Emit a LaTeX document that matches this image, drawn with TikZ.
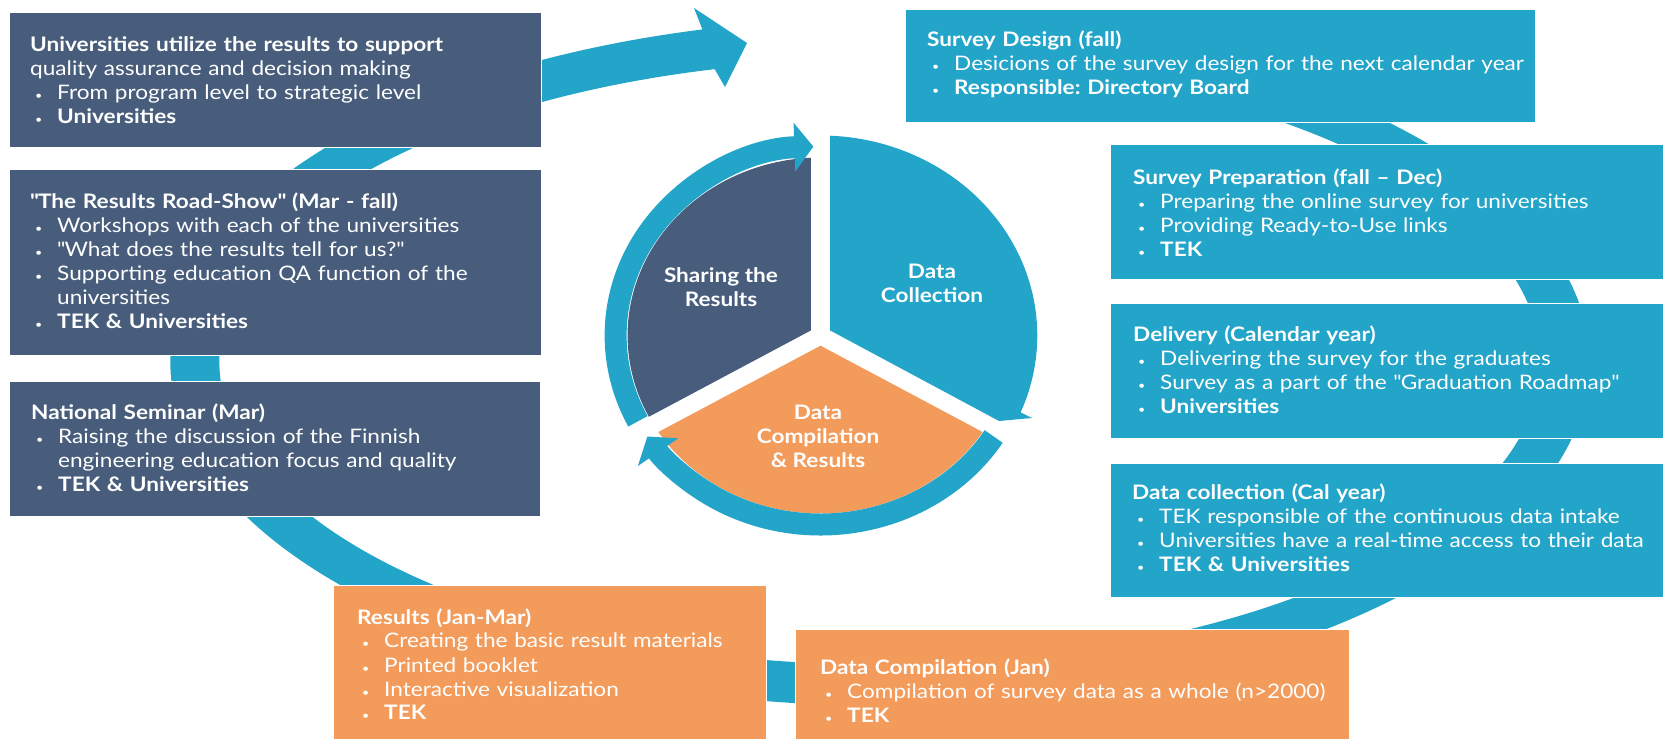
\documentclass[tikz,border=0pt]{standalone}
\usepackage{fontspec}
\setmainfont{Lato}[FakeStretch=1.13]
\usetikzlibrary{arrows.meta,positioning}

\definecolor{slate}{HTML}{485D7C}
\definecolor{skyblue}{HTML}{23A4C9}
\definecolor{peach}{HTML}{F39B5B}

\newcommand{\bul}{\makebox[27pt][l]{\hspace{5pt}{\fontsize{11}{11}\selectfont\textbullet}}}
\newcommand{\cont}{\hspace*{27pt}}
\newcommand{\qq}{\textquotedbl}

\tikzset{
  panel/.style={draw=white, line width=1pt, inner sep=0pt, anchor=north west},
  panetext/.style={anchor=base west, inner sep=0pt, text=white, text width=700pt, align=left, font=\fontsize{20}{24}\selectfont\frenchspacing},
  hubtext/.style={text=white, inner sep=0pt, align=center, font=\bfseries\fontsize{20}{24}\selectfont},
  cyclearrow/.style={skyblue, line width=22pt, -{Triangle[width=48pt,length=19pt]}}
}

\begin{document}
\begin{tikzpicture}[x=1pt, y=1pt]
\useasboundingbox (0,0) rectangle (1667,739);

% Outer cycle arrow (behind the boxes)
\begin{scope}[shift={(880,377)}]
  \fill[skyblue] (70:709.5 and 343.5) arc[start angle=70, end angle=-255.5, x radius=709.5, y radius=343.5]
    -- (-186,354) -- (-133,319) -- (-155,275) -- (-255.5:660.5 and 302.5)
    arc[start angle=-255.5, end angle=70, x radius=660.5, y radius=302.5] -- cycle;
\end{scope}

% Left column
\node[panel, fill=slate, minimum width=532pt, minimum height=135pt] (use) at (9,727) {};
\node[panel, fill=slate, minimum width=532pt, minimum height=186pt] (roadshow) at (9,570) {};
\node[panel, fill=slate, minimum width=531pt, minimum height=135pt] (seminar) at (9,358) {};

% Bottom row
\node[panel, fill=peach, minimum width=433pt, minimum height=154pt] (results) at (333,154) {};
\node[panel, fill=peach, minimum width=554pt, minimum height=110pt] (compilation) at (795,110) {};

% Right column
\node[panel, fill=skyblue, minimum width=630pt, minimum height=113pt] (design) at (905,730) {};
\node[panel, fill=skyblue, minimum width=553pt, minimum height=135pt] (prep) at (1110,595) {};
\node[panel, fill=skyblue, minimum width=553pt, minimum height=135pt] (delivery) at (1110,436) {};
\node[panel, fill=skyblue, minimum width=553pt, minimum height=134pt] (collection) at (1110,276) {};

% Box texts
\node[panetext] (useTxt) at (30,687) {\textbf{Universities utilize the results to support}\\
  quality assurance and decision making\\
  \bul From program level to strategic level\\
  \bul\textbf{Universities}};
\node[panetext] (roadshowTxt) at (30,530) {\textbf{\qq The Results Road-Show\qq{} (Mar - fall)}\\
  \bul Workshops with each of the universities\\
  \bul \qq What does the results tell for us?\qq\\
  \bul Supporting education QA function of the\\
  \cont universities\\
  \bul\textbf{TEK \& Universities}};
\node[panetext] (seminarTxt) at (31,319) {\textbf{National Seminar (Mar)}\\
  \bul Raising the discussion of the Finnish\\
  \cont engineering education focus and quality\\
  \bul\textbf{TEK \& Universities}};
\node[panetext] (resultsTxt) at (357,115) {\textbf{Results (Jan-Mar)}\\
  \bul Creating the basic result materials\\
  \bul Printed booklet\\
  \bul Interactive visualization\\
  \bul\textbf{TEK}};
\node[panetext] (compilationTxt) at (820,65) {\textbf{Data Compilation (Jan)}\\
  \bul Compilation of survey data as a whole (n>2000)\\
  \bul\textbf{TEK}};
\node[panetext] (designTxt) at (927,692) {\textbf{Survey Design (fall)}\\
  \bul Desicions of the survey design for the next calendar year\\
  \bul\textbf{Responsible: Directory Board}};
\node[panetext] (prepTxt) at (1133,554) {\textbf{Survey Preparation (fall -- Dec)}\\
  \bul Preparing the online survey for universities\\
  \bul Providing Ready-to-Use links\\
  \bul\textbf{TEK}};
\node[panetext] (deliveryTxt) at (1133,397) {\textbf{Delivery (Calendar year)}\\
  \bul Delivering the survey for the graduates\\
  \bul Survey as a part of the \qq Graduation Roadmap\qq\\
  \bul\textbf{Universities}};
\node[panetext] (collectionTxt) at (1132,239) {\textbf{Data collection (Cal year)}\\
  \bul TEK responsible of the continuous data intake\\
  \bul Universities have a real-time access to their data\\
  \bul\textbf{TEK \& Universities}};

% Centre pie with its ring arrows
\begin{scope}[shift={(820.5,403.5)}, xscale=1.084]
  \fill[slate] (-8.8,5.1) -- (92.83:178) arc[start angle=92.83, end angle=207.17, radius=178] -- cycle;
  \fill[skyblue] (8.8,5.1) -- (87.48:200) arc[start angle=87.48, end angle=-22.6, radius=200]
    -- (195.1,-82.5) -- (164.7,-85.5) -- cycle;
  \fill[peach] (0,-10.2) -- (212.83:178) arc[start angle=212.83, end angle=327.17, radius=178] -- cycle;
  \draw[cyclearrow] (207:189) arc[start angle=207, end angle=92, radius=189];
  \draw[cyclearrow] (-32.3:189) arc[start angle=-32.3, end angle=-147.7, radius=189];
\end{scope}

\node[hubtext] (share) at (721,452) {Sharing the\\Results};
\node[hubtext] (collect) at (932,456) {Data\\Collection};
\node[hubtext] (compile) at (818,303) {Data\\Compilation\\\& Results};
\end{tikzpicture}
\end{document}
